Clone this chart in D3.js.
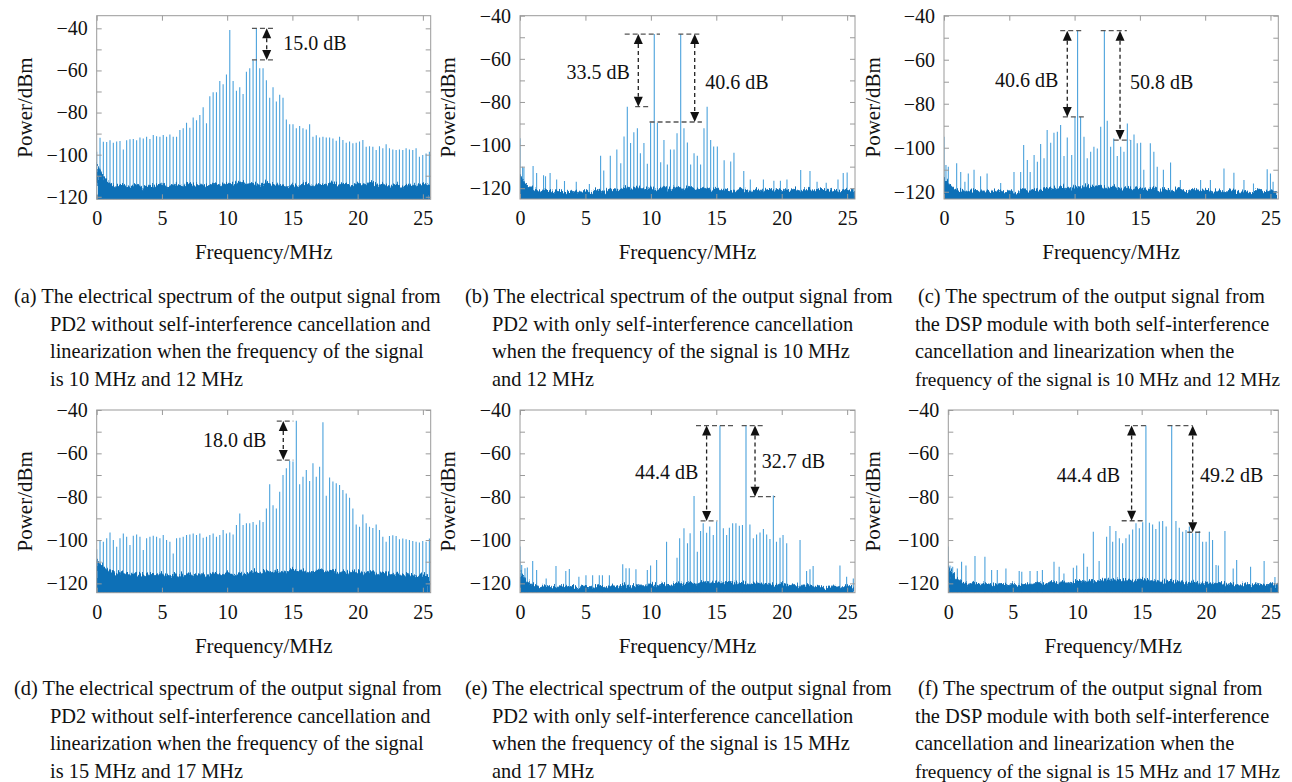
<!DOCTYPE html>
<html>
<head>
<meta charset="utf-8">
<script src="https://cdn.jsdelivr.net/npm/d3@7"></script>
<style>
  body { margin: 0; background: #fff; }
  svg text { font-family: "Liberation Serif", "Times New Roman", serif; fill: #111; }
</style>
</head>
<body>
<svg id="chart" width="1292" height="782"></svg>
<script>
// axis values shared by all six panels
var freqMax = 25.6;
var xTicks = [0, 5, 10, 15, 20, 25];
var yTicks = [-40, -50, -60, -70, -80, -90, -100, -110, -120];
var yTickLabels = [-40, -60, -80, -100, -120];

// comb spacing of the tone/IMD lines in (a) and (d), MHz
var combStep = 0.255;
// noise floor envelope sampled every 0.5 MHz
var noiseStep = 0.5;

// (a) 10 MHz + 12 MHz, no cancellation: comb line heights, dBm
var linesA = [-98.6, -92, -93.9, -94, -93.1, -94.4, -93.8, -93.5, -97.5, -93.1,
  -92.7, -92.6, -93.1, -91.8, -92.3, -91.5, -92.6, -90.7, -91.2, -91.5,
  -90.7, -91.5, -90.4, -91.5, -91.5, -88.3, -87.5, -84.8, -87.2, -82.3,
  -83.6, -81.2, -77.5, -85.1, -72.2, -70.4, -70.4, -65, -66.6, -61.9,
  -40.8, -65, -69.6, -68, -71.2, -60.6, -59, -55.1, -40, -59,
  -59, -64.6, -73, -68, -74.8, -71.5, -73, -83.3, -85.5, -85.5,
  -87.5, -86.4, -87.5, -88, -85.5, -91.5, -90.8, -91.8, -91.5, -91.8,
  -91.8, -92.3, -93.4, -91.5, -93, -94.3, -93.8, -94.6, -94.3, -93.8,
  -93, -96.3, -96, -96.3, -97.8, -96, -97, -95, -97, -97.5,
  -97.8, -97.5, -97.8, -97, -97.5, -97.8, -97, -101, -100.2, -99.4, -98.6];
var noiseA = [-104, -111, -113.5, -115, -114, -115.5, -114, -115.5, -114.5, -115,
  -113.5, -115.5, -114, -115, -113.5, -114.5, -114, -115.5, -113.5, -114.5,
  -113.5, -114, -112.5, -114, -113.5, -114.5, -113, -114.5, -114, -115,
  -114, -115, -113.5, -115, -114, -114.5, -113, -114.5, -113.5, -115,
  -113.5, -114.5, -113, -114.5, -114, -115, -114, -115.5, -114, -115, -113.5, -114.5];

// (b) 10 MHz + 12 MHz, cancellation only: [MHz, dBm]
var spursB = [[0, -96.8], [0.2, -110], [0.3, -110.5], [1.0, -109.7], [1.27, -113], [1.8, -114],
  [1.95, -114.5], [2.3, -113], [2.8, -116], [3.4, -116.6], [4.3, -117], [5.3, -118],
  [6.16, -105], [6.4, -111.8], [6.9, -105], [7.4, -102], [7.7, -108.4], [7.95, -96],
  [8.2, -82.2], [8.45, -99], [8.7, -94], [8.97, -92.2], [9.2, -103.8], [9.47, -99],
  [9.73, -108.7], [9.98, -89.6], [10.26, -48.5], [10.5, -89.6], [10.75, -108], [11.0, -97.6],
  [11.26, -109], [11.5, -102], [11.77, -102], [12.0, -94.5], [12.28, -48.5], [12.53, -92.2],
  [12.79, -98.8], [13.04, -109], [13.3, -103.8], [13.55, -105], [13.8, -109], [14.06, -92.2],
  [14.3, -82.2], [14.57, -97.6], [14.8, -100.7], [15.08, -100.7], [15.6, -107], [16.1, -107.6],
  [16.35, -103.5], [17.1, -112], [17.6, -116], [18.6, -116], [19.4, -116.5], [19.9, -116.5],
  [20.4, -116], [21.45, -111.5], [22.16, -112], [22.7, -117], [23.4, -117.5], [24.3, -116],
  [24.7, -113], [25.0, -112.7], [25.5, -120]];
var noiseB = [-114, -119, -120.5, -121.5, -120.5, -121.5, -121, -122, -121, -121.5,
  -121, -122, -120.5, -121.5, -120.5, -121, -119.5, -120.5, -119.5, -120.5,
  -119.5, -120.5, -119.5, -120.5, -119.5, -120, -119.5, -120.5, -120, -120.5,
  -120, -121, -120.5, -121, -120.5, -121.5, -120.5, -121.5, -120.5, -121.5,
  -120.5, -121, -120.5, -121.5, -120.5, -121.5, -120.5, -121, -120.5, -121.5, -120.5, -121];

// (c) 10 MHz + 12 MHz, cancellation and linearization
var spursC = [[0, -95], [0.15, -107.9], [0.33, -108.6], [0.97, -107], [1.28, -111], [1.6, -115.5],
  [1.86, -111.7], [2.3, -110], [2.8, -113], [3.3, -111.7], [4.34, -116], [5.36, -111],
  [5.87, -111], [6.1, -98.8], [6.38, -105.6], [6.6, -111], [6.9, -103.3], [7.15, -106.4],
  [7.4, -98.3], [7.66, -104.8], [7.9, -92], [8.17, -97.7], [8.42, -93.2], [8.68, -92.7],
  [8.93, -89.7], [9.19, -103.8], [9.44, -95.3], [9.78, -103.3], [10.03, -86], [10.23, -46.8],
  [10.46, -86], [10.72, -95], [10.97, -104.8], [11.23, -101.8], [11.48, -99.5], [11.74, -100.3],
  [12.0, -90.5], [12.28, -46.8], [12.5, -87.7], [12.76, -99.5], [13.0, -95.8], [13.27, -103.8],
  [13.53, -99.5], [13.78, -101.8], [14.04, -89], [14.3, -96.5], [14.55, -94], [14.8, -98],
  [15.06, -97.7], [15.3, -110], [15.8, -98], [16.07, -101.8], [16.33, -108.6], [16.8, -110],
  [17.35, -106.7], [18.1, -114.7], [19.65, -114.7], [20.4, -114.7], [21.44, -109.4], [22.2, -111.4],
  [22.97, -114.7], [23.7, -116.2], [24.75, -109.8], [25.0, -111.7], [25.2, -115.5]];
var noiseC = [-113, -117.5, -119, -120, -119, -120, -119.5, -120.5, -119, -120,
  -119.5, -120.5, -119, -120, -118.5, -119.5, -118, -119, -117.5, -118.5,
  -117.5, -118.5, -117, -118, -117.5, -118.5, -117.5, -118.5, -118, -118.5,
  -118, -119, -118, -119.5, -118.5, -119.5, -118.5, -120, -119, -120,
  -119, -120, -119, -120, -119, -120, -119.5, -120.5, -119, -120, -119.5, -120.5];

// (d) 15 MHz + 17 MHz, no cancellation
var linesD = [-104.2, -100, -100.8, -99.2, -96.5, -100, -103.1, -99.2, -97, -98.5,
  -102.3, -98, -97.4, -98.5, -104.6, -99.2, -98.5, -98, -98.5, -99.2,
  -97.7, -100, -100.8, -106.2, -99.2, -99, -98.5, -97.7, -97.4, -97,
  -97.7, -97, -99, -98.5, -97.7, -97, -98.5, -97.7, -95.4, -97,
  -96.5, -97.4, -93.1, -87.7, -93.1, -92.3, -92.3, -91.7, -93, -90.9,
  -91.7, -85.4, -74.3, -83.9, -85.4, -77.7, -70, -66.9, -63.5, -63.8,
  -45, -74.3, -70.8, -67.7, -72.8, -64.6, -70.8, -66.2, -45.7, -79.6,
  -71.2, -73, -73.8, -74.6, -76.9, -78.5, -80.5, -85.4, -92.8, -93.9,
  -88.2, -92.3, -93.9, -94.4, -92.8, -95.4, -98.5, -100.8, -98.1, -97.8,
  -98.1, -99.6, -99.3, -99.6, -100, -100.4, -100.8, -101.1, -100.4, -100.8, -99.3];
var noiseD = [-109, -112.5, -114, -115.5, -114.5, -116, -115, -116.5, -115.5, -116.5,
  -115.5, -116.5, -115.5, -116.5, -115.5, -116.5, -115.5, -116.5, -115, -116,
  -115, -116.5, -115, -116, -114.5, -115.5, -114, -115, -114, -115,
  -113.5, -114.5, -114, -115, -113.5, -114.5, -114, -115, -114, -115,
  -114.5, -115.5, -114.5, -115.5, -115, -116, -115.5, -116.5, -115.5, -116.5, -116, -117];

// (e) 15 MHz + 17 MHz, cancellation only
var spursE = [[0, -103], [0.13, -111.5], [0.38, -113], [0.56, -112.7], [0.97, -109.7], [1.27, -113.8],
  [2.0, -117.7], [2.75, -112], [3.5, -114.3], [3.77, -113.4], [4.5, -116.9], [5.04, -116.2],
  [5.55, -116.2], [6.06, -116.2], [6.3, -116.2], [6.83, -116.2], [7.85, -111.2], [8.1, -113],
  [8.35, -113], [8.86, -113.5], [9.73, -113.8], [9.98, -111.8], [10.44, -109.2], [11.2, -100.8],
  [12.0, -108.2], [12.2, -99.2], [12.53, -94.6], [12.8, -101.5], [13.0, -96.9], [13.3, -79.7],
  [13.55, -105.4], [13.8, -95.8], [14.0, -92.3], [14.26, -96.6], [14.5, -93.8], [14.77, -97.7],
  [15.03, -91.5], [15.28, -47.2], [15.54, -94.6], [15.79, -97.7], [16.0, -94.3], [16.25, -92.3],
  [16.5, -92.3], [16.76, -93.4], [17.0, -93.1], [17.27, -47.2], [17.57, -92.8], [17.83, -99.2],
  [18.08, -97.4], [18.34, -96.5], [18.6, -94.9], [18.85, -97.4], [19.1, -99.5], [19.36, -79.5],
  [19.6, -100.8], [19.87, -99], [20.1, -97.7], [20.38, -101.5], [21.4, -100], [21.9, -114.3],
  [22.16, -113.5], [22.4, -112], [24.45, -111.8], [24.96, -116.9], [25.47, -117.7]];
var noiseE = [-114, -119, -120.5, -121.5, -121, -122, -121, -122, -121, -122,
  -121, -122, -121, -122, -121, -121.5, -120.5, -121.5, -120.5, -121.5,
  -120, -121, -120, -121, -119.5, -120.5, -119.5, -120.5, -119, -120,
  -119, -120, -119, -120, -119.5, -120.5, -119.5, -120.5, -120, -121,
  -120, -121, -120.5, -121.5, -120.5, -121.5, -121, -122, -121, -122, -121, -122];

// (f) 15 MHz + 17 MHz, cancellation and linearization
var spursF = [[0, -103], [0.13, -111.8], [0.34, -112.3], [0.7, -113.1], [1.03, -110], [1.37, -111.8],
  [2.07, -107.4], [2.84, -107.7], [3.36, -113.8], [3.8, -113.8], [4.47, -113.1], [5.5, -114.3],
  [5.7, -114.6], [6.34, -114.3], [6.9, -114.3], [7.3, -113.8], [8.2, -110], [8.6, -112.3],
  [8.97, -115.4], [9.7, -112.8], [9.96, -111.8], [10.5, -106.2], [10.78, -112.3], [11.25, -96.2],
  [11.7, -109.7], [12.28, -98.5], [12.54, -93.5], [12.75, -100.8], [13.0, -95.8], [13.27, -99.2],
  [13.52, -101.5], [13.78, -99.2], [14.04, -97.4], [14.3, -95.1], [14.56, -92.3], [14.82, -94.6],
  [15.08, -91.8], [15.33, -47.2], [15.6, -92], [15.85, -92.8], [16.1, -94.9], [16.37, -91.5],
  [16.63, -91.2], [16.9, -93.8], [17.33, -47.2], [17.66, -91.2], [17.92, -94.3], [18.18, -96.2],
  [18.44, -95.4], [18.7, -93.8], [18.95, -96.9], [19.2, -96.2], [19.47, -95.8], [19.73, -100.8],
  [20.0, -100.8], [20.25, -96.2], [20.5, -100], [20.77, -111.5], [20.95, -111.8], [21.46, -95.8],
  [22.1, -113.1], [22.37, -109.2], [23.45, -112.3], [24.5, -109.7], [25.34, -117]];
var noiseF = [-112, -117.5, -119, -120.5, -119.5, -120.5, -120, -121, -120, -121,
  -120, -121, -120, -120.5, -119.5, -120.5, -119, -120, -119, -120,
  -118.5, -119.5, -118.5, -119.5, -118, -119, -118, -119, -118, -119,
  -118, -119, -118.5, -119.5, -118.5, -119.5, -119, -120, -119, -120,
  -119.5, -120.5, -119.5, -120.5, -120, -121, -120, -121, -120, -121, -120, -121];

// annotations: dashed levels [from MHz, to MHz, dBm], arrows [MHz, top, bottom], labels
var dashA = [[11.9, 13.55, -40], [11.9, 13.55, -55]];
var arrowA = [[13.03, -40, -55]];
var labelA = [['15.0 dB', 14.3, -47.1, 'start']];
var dashB = [[8.0, 10.7, -48.5], [12.1, 13.9, -48.5], [8.8, 9.8, -82.2], [9.9, 13.9, -89.3]];
var arrowB = [[9.04, -48.5, -82.2], [13.35, -48.5, -89.3]];
var labelB = [['33.5 dB', 8.4, -66, 'end'], ['40.6 dB', 14.15, -70.6, 'start']];
var dashC = [[8.9, 10.7, -46.8], [12.0, 14.0, -46.8], [9.1, 10.85, -86], [13.0, 14.25, -96.5]];
var arrowC = [[9.44, -46.8, -86], [13.48, -46.8, -96.5]];
var labelC = [['40.6 dB', 8.75, -69.2, 'end'], ['50.8 dB', 14.25, -70, 'start']];
var dashD = [[13.8, 15.07, -45.1], [13.8, 15.07, -63.1]];
var arrowD = [[14.3, -45.1, -63.1]];
var labelD = [['18.0 dB', 13.0, -53.8, 'end']];
var dashE = [[13.45, 16.35, -47.2], [16.94, 18.64, -47.2], [13.8, 15.08, -91.2], [17.57, 19.5, -80]];
var arrowE = [[14.26, -47.2, -91.2], [17.96, -47.2, -80]];
var labelE = [['44.4 dB', 13.63, -68.8, 'end'], ['32.7 dB', 18.47, -63.5, 'start']];
var dashF = [[13.7, 15.52, -47.2], [17.0, 18.96, -47.2], [13.45, 15.13, -91.1], [18.54, 19.58, -96.4]];
var arrowF = [[14.22, -47.2, -91.1], [18.96, -47.2, -96.4]];
var labelF = [['44.4 dB', 13.32, -70, 'end'], ['49.2 dB', 19.52, -70, 'start']];

var captionA = ['(a) The electrical spectrum of the output signal from', 'PD2 without self-interference cancellation and',
  'linearization when the frequency of the signal', 'is 10 MHz and 12 MHz'];
var captionB = ['(b) The electrical spectrum of the output signal from', 'PD2 with only self-interference cancellation',
  'when the frequency of the signal is 10 MHz', 'and 12 MHz'];
var captionC = ['(c) The spectrum of the output signal from', 'the DSP module with both self-interference',
  'cancellation and linearization when the', 'frequency of the signal is 10 MHz and 12 MHz'];
var captionD = ['(d) The electrical spectrum of the output signal from', 'PD2 without self-interference cancellation and',
  'linearization when the frequency of the signal', 'is 15 MHz and 17 MHz'];
var captionE = ['(e) The electrical spectrum of the output signal from', 'PD2 with only self-interference cancellation',
  'when the frequency of the signal is 15 MHz', 'and 17 MHz'];
var captionF = ['(f) The spectrum of the output signal from', 'the DSP module with both self-interference',
  'cancellation and linearization when the', 'frequency of the signal is 15 MHz and 17 MHz'];

var SpectrumFigure = (function(d3) {

    'use strict';

    var svg, lineColor, noiseColor, boxColor, pageWidth;

    var construct = function() {
        svg = d3.select('#chart');
        lineColor = '#4ba2dc';
        noiseColor = '#0f6fb7';
        boxColor = '#9a9a9a';
        pageWidth = 1292;
        addRoughFilter();
        init();
    };

    // gives the noise floor a ragged top edge instead of a smooth polygon
    function addRoughFilter() {
        var f = svg.append('defs').append('filter')
          .attr('id', 'rough')
          .attr('x', '-2%').attr('y', '-30%')
          .attr('width', '104%').attr('height', '160%');
        f.append('feTurbulence')
          .attr('type', 'fractalNoise')
          .attr('baseFrequency', '0.9 0.06')
          .attr('numOctaves', 2)
          .attr('seed', 7)
          .attr('result', 'turb');
        f.append('feDisplacementMap')
          .attr('in', 'SourceGraphic')
          .attr('in2', 'turb')
          .attr('scale', 9)
          .attr('xChannelSelector', 'R')
          .attr('yChannelSelector', 'G');
    };

    function combToPoints(heights) {
        return heights.map(function(v, i) { return [i * combStep, v]; });
    };

    function init() {
        var panels = [
            {id: 'a', left: 96.7, right: 430.7, top: 15.7, bottom: 199.3, yDomain: [-121.2, -34],
             lines: combToPoints(linesA), noise: noiseA, dash: dashA, arrows: arrowA, labels: labelA,
             ylabelX: 25, caption: captionA, capX: [14, 50], capY: 303},
            {id: 'b', left: 520, right: 855, top: 15.7, bottom: 199, yDomain: [-125, -40],
             lines: spursB, noise: noiseB, dash: dashB, arrows: arrowB, labels: labelB,
             ylabelX: 448, caption: captionB, capX: [465, 492], capY: 303},
            {id: 'c', left: 944, right: 1278.3, top: 15.7, bottom: 199, yDomain: [-123.3, -40],
             lines: spursC, noise: noiseC, dash: dashC, arrows: arrowC, labels: labelC,
             ylabelX: 873, caption: captionC, capX: [918, 915], capY: 303},
            {id: 'd', left: 96.7, right: 430.7, top: 410, bottom: 592.7, yDomain: [-124.3, -40],
             lines: combToPoints(linesD), noise: noiseD, dash: dashD, arrows: arrowD, labels: labelD,
             ylabelX: 25, caption: captionD, capX: [14, 50], capY: 695},
            {id: 'e', left: 520, right: 855, top: 410, bottom: 592.7, yDomain: [-124.3, -40],
             lines: spursE, noise: noiseE, dash: dashE, arrows: arrowE, labels: labelE,
             ylabelX: 448, caption: captionE, capX: [465, 492], capY: 695},
            {id: 'f', left: 948.3, right: 1278.3, top: 410, bottom: 592.7, yDomain: [-124.3, -40],
             lines: spursF, noise: noiseF, dash: dashF, arrows: arrowF, labels: labelF,
             ylabelX: 873, caption: captionF, capX: [918, 915], capY: 695}
        ];
        panels.forEach(drawPanel);
    };

    function drawPanel(p) {
        var x = d3.scaleLinear().domain([0, freqMax]).range([p.left, p.right]);
        var y = d3.scaleLinear().domain(p.yDomain).range([p.bottom, p.top]);
        var g = svg.append('g');

        g.append('clipPath').attr('id', 'clip-' + p.id)
          .append('rect')
            .attr('x', p.left).attr('y', p.top)
            .attr('width', p.right - p.left).attr('height', p.bottom - p.top);

        var plot = g.append('g').attr('clip-path', 'url(#clip-' + p.id + ')');

        // spectral lines
        plot.selectAll('line.spur')
          .data(p.lines)
          .enter()
          .append('line')
            .attr('class', 'spur')
            .attr('x1', function(d) { return x(d[0]); })
            .attr('x2', function(d) { return x(d[0]); })
            .attr('y1', y(p.yDomain[0]))
            .attr('y2', function(d) { return y(d[1]); })
            .attr('stroke', lineColor)
            .attr('stroke-width', 1.1);

        // noise floor, extended below the box so the rough edge stays at the top
        plot.append('path')
          .datum(p.noise)
          .attr('fill', noiseColor)
          .attr('stroke', noiseColor)
          .attr('stroke-width', 0.8)
          .attr('filter', 'url(#rough)')
          .attr('d', d3.area()
            .x(function(d, i) { return x(i * noiseStep); })
            .y0(p.bottom + 12)
            .y1(function(d) { return y(d); })
          );

        // axes, ticks pointing inward on all four sides
        var yFmt = function(d) { return yTickLabels.indexOf(d) >= 0 ? d3.format('d')(d) : ''; };
        var bottomAxis = g.append('g')
          .attr('transform', 'translate(0,' + p.bottom + ')')
          .call(d3.axisBottom(x).tickValues(xTicks).tickSize(-5).tickPadding(12).tickFormat(d3.format('d')));
        var leftAxis = g.append('g')
          .attr('transform', 'translate(' + p.left + ',0)')
          .call(d3.axisLeft(y).tickValues(yTicks).tickSize(-5).tickPadding(9).tickFormat(yFmt));
        var topAxis = g.append('g')
          .attr('transform', 'translate(0,' + p.top + ')')
          .call(d3.axisTop(x).tickValues(xTicks).tickSize(-5).tickFormat(''));
        var rightAxis = g.append('g')
          .attr('transform', 'translate(' + p.right + ',0)')
          .call(d3.axisRight(y).tickValues(yTicks).tickSize(-5).tickFormat(''));

        [bottomAxis, leftAxis, topAxis, rightAxis].forEach(function(a) {
            a.select('.domain').remove();
            a.selectAll('line').attr('stroke', boxColor);
            a.selectAll('text')
              .style('font-family', '"Liberation Serif", serif')
              .style('font-size', '20px')
              .attr('fill', '#111');
        });

        g.append('rect')
          .attr('x', p.left).attr('y', p.top)
          .attr('width', p.right - p.left).attr('height', p.bottom - p.top)
          .attr('fill', 'none')
          .attr('stroke', boxColor)
          .attr('stroke-width', 1);

        // axis titles
        g.append('text')
          .attr('x', (p.left + p.right) / 2)
          .attr('y', p.bottom + 60)
          .attr('text-anchor', 'middle')
          .style('font-size', '21px')
          .text('Frequency/MHz');
        g.append('text')
          .attr('transform', 'translate(' + p.ylabelX + ',' + ((p.top + p.bottom) / 2) + ') rotate(-90)')
          .attr('dy', '0.35em')
          .attr('text-anchor', 'middle')
          .style('font-size', '21px')
          .text('Power/dBm');

        drawAnnotations(g, p, x, y);

        // caption, a smaller font where a line would run past the page edge
        var capSize = 20.4;
        g.selectAll('text.caption')
          .data(p.caption)
          .enter()
          .append('text')
            .attr('class', 'caption')
            .attr('x', function(d, i) { return i == 0 ? p.capX[0] : p.capX[1]; })
            .attr('y', function(d, i) { return p.capY + i * 27.6; })
            .style('font-size', capSize + 'px')
            .text(function(d) { return d; })
            .each(function(d, i) {
                var x0 = i == 0 ? p.capX[0] : p.capX[1];
                var room = pageWidth - 12 - x0;
                var len = this.getComputedTextLength();
                if(len > room) {
                    d3.select(this).style('font-size', (capSize * room / len).toFixed(2) + 'px');
                }
            });
    };

    function drawAnnotations(g, p, x, y) {
        g.selectAll('line.level')
          .data(p.dash)
          .enter()
          .append('line')
            .attr('class', 'level')
            .attr('x1', function(d) { return x(d[0]); })
            .attr('x2', function(d) { return x(d[1]); })
            .attr('y1', function(d) { return y(d[2]); })
            .attr('y2', function(d) { return y(d[2]); })
            .attr('stroke', '#555')
            .attr('stroke-width', 1.3)
            .attr('stroke-dasharray', '5,3');

        var head = 10, half = 4.5;
        p.arrows.forEach(function(a) {
            var ax = x(a[0]), yt = y(a[1]), yb = y(a[2]);
            g.append('line')
              .attr('x1', ax).attr('x2', ax)
              .attr('y1', yt + head).attr('y2', yb - head)
              .attr('stroke', '#222')
              .attr('stroke-width', 1.3)
              .attr('stroke-dasharray', '4,3');
            g.append('path')
              .attr('d', 'M' + ax + ',' + yt + 'L' + (ax - half) + ',' + (yt + head) + 'L' + (ax + half) + ',' + (yt + head) + 'Z')
              .attr('fill', '#111');
            g.append('path')
              .attr('d', 'M' + ax + ',' + yb + 'L' + (ax - half) + ',' + (yb - head) + 'L' + (ax + half) + ',' + (yb - head) + 'Z')
              .attr('fill', '#111');
        });

        g.selectAll('text.dblabel')
          .data(p.labels)
          .enter()
          .append('text')
            .attr('class', 'dblabel')
            .attr('x', function(d) { return x(d[1]); })
            .attr('y', function(d) { return y(d[2]); })
            .attr('dy', '0.35em')
            .attr('text-anchor', function(d) { return d[3]; })
            .style('font-size', '20px')
            .text(function(d) { return d[0]; });
    };

    construct.prototype = {
        init: init,
        drawPanel: drawPanel
    };

    return construct;

})(d3);

var spectrumFigure = new SpectrumFigure();
</script>
</body>
</html>
